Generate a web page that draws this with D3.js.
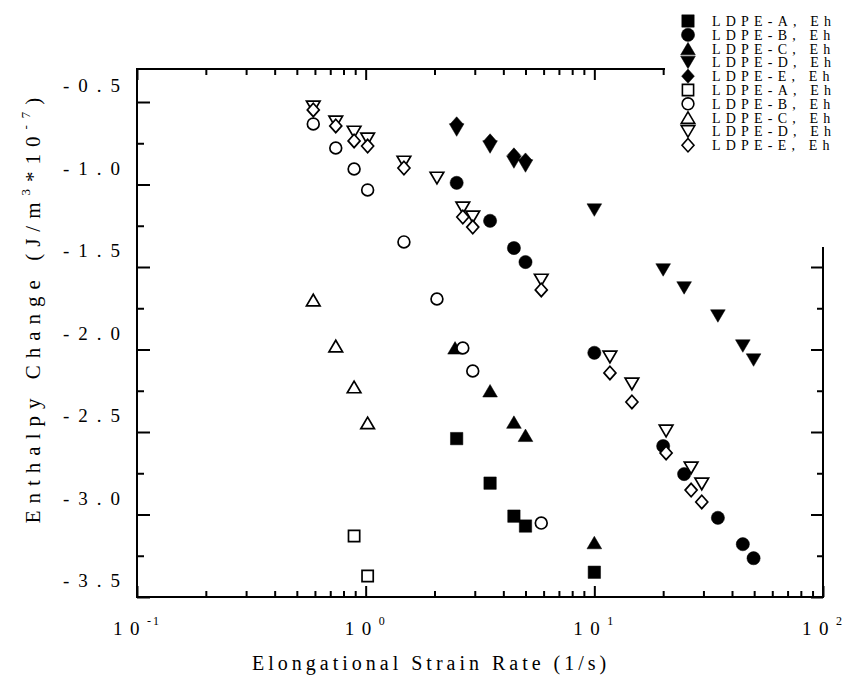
<!DOCTYPE html>
<html><head><meta charset="utf-8">
<script src="https://cdn.jsdelivr.net/npm/d3@7"></script>
<style>body{margin:0;background:#fff} svg{display:block}</style>
</head><body>
<svg id="c" width="844" height="681"></svg>
<script>
// ---------- data ----------
const xTickValues = [0.1, 1, 10, 100];
const xTickExponents = ["-1", "0", "1", "2"];
const yTickValues = [-0.5, -1.0, -1.5, -2.0, -2.5, -3.0, -3.5];
const yTickLabels = ["-0.5", "-1.0", "-1.5", "-2.0", "-2.5", "-3.0", "-3.5"];
const seriesLabels = ["LDPE-A, Eh", "LDPE-B, Eh", "LDPE-C, Eh", "LDPE-D, Eh", "LDPE-E, Eh",
                      "LDPE-A, Eh", "LDPE-B, Eh", "LDPE-C, Eh", "LDPE-D, Eh", "LDPE-E, Eh"];
const seriesShapes = ["square", "circle", "up", "down", "diamond", "square", "circle", "up", "down", "diamond"];
const seriesFilled = [true, true, true, true, true, false, false, false, false, false];

// filled series
const rateA1 = [2.5, 3.5, 4.45, 5.0, 10];
const dhA1   = [-2.54, -2.81, -3.01, -3.07, -3.35];
const rateB1 = [2.5, 3.5, 4.45, 5.0, 10, 20, 24.7, 34.7, 44.6, 49.7];
const dhB1   = [-0.99, -1.22, -1.385, -1.47, -2.02, -2.585, -2.755, -3.02, -3.18, -3.265];
const rateC1 = [2.46, 3.5, 4.45, 5.0, 10];
const dhC1   = [-1.99, -2.25, -2.44, -2.52, -3.17];
const rateD1 = [2.5, 3.5, 4.45, 5.0, 10, 20, 24.7, 34.7, 44.6, 49.7];
const dhD1   = [-0.67, -0.773, -0.864, -0.888, -1.155, -1.518, -1.627, -1.797, -1.979, -2.064];
const rateE1 = [2.5, 3.5, 4.45, 5.0];
const dhE1   = [-0.633, -0.736, -0.821, -0.852];
// open series
const rateA2 = [0.89, 1.02];
const dhA2   = [-3.13, -3.373];
const rateB2 = [0.59, 0.74, 0.89, 1.02, 1.47, 2.05, 2.66, 2.94, 5.86];
const dhB2   = [-0.633, -0.779, -0.906, -1.033, -1.348, -1.694, -1.991, -2.13, -3.052];
const rateC2 = [0.59, 0.74, 0.89, 1.02];
const dhC2   = [-1.70, -1.979, -2.227, -2.445];
const rateD2 = [0.59, 0.74, 0.89, 1.02, 1.47, 2.05, 2.66, 2.94, 5.86, 11.7, 14.6, 20.6, 26.5, 29.5];
const dhD2   = [-0.53, -0.621, -0.682, -0.724, -0.864, -0.961, -1.142, -1.197, -1.579, -2.045, -2.209, -2.494, -2.718, -2.815];
const rateE2 = [0.59, 0.74, 0.89, 1.02, 1.47, 2.66, 2.94, 5.86, 11.7, 14.6, 20.6, 26.5, 29.5];
const dhE2   = [-0.548, -0.645, -0.736, -0.767, -0.90, -1.197, -1.258, -1.639, -2.142, -2.318, -2.627, -2.852, -2.924];

const seriesX = [rateA1, rateB1, rateC1, rateD1, rateE1, rateA2, rateB2, rateC2, rateD2, rateE2];
const seriesY = [dhA1, dhB1, dhC1, dhD1, dhE1, dhA2, dhB2, dhC2, dhD2, dhE2];

// ---------- chart ----------
const svg = d3.select("#c");
const FONT = "'Liberation Serif', 'Times New Roman', serif";
const L = 137, R = 823, T = 69, B = 597;
const x = d3.scaleLog().domain([0.1, 100]).range([L, R]);
const y = d3.scaleLinear().domain([-3.5, -0.3]).range([B, T]);

// symbol types
const shapeTypes = {
  square: { draw(c, s) { c.rect(-s, -s, 2 * s, 2 * s); } },
  circle: { draw(c, s) { c.moveTo(s, 0); c.arc(0, 0, s, 0, 2 * Math.PI); } },
  up: { draw(c, s) { const a = s * 1.08, h = s * 0.92; c.moveTo(0, -h); c.lineTo(a, h); c.lineTo(-a, h); c.closePath(); } },
  down: { draw(c, s) { const a = s * 1.08, h = s * 0.92; c.moveTo(0, h); c.lineTo(a, -h); c.lineTo(-a, -h); c.closePath(); } },
  diamond: { draw(c, s) { const h = s * 1.12; c.moveTo(0, -h); c.lineTo(s, 0); c.lineTo(0, h); c.lineTo(-s, 0); c.closePath(); } }
};
const filledSize = { square: 6.2, circle: 6.6, up: 6.8, down: 6.8, diamond: 6.4 };
const openSize = { square: 5.6, circle: 5.9, up: 6.3, down: 6.3, diamond: 6.0 };
function symPath(shape, filled) {
  return d3.symbol().type(shapeTypes[shape]).size(filled ? filledSize[shape] : openSize[shape])();
}

// ticks
const minorTicks = [];
for (let e = -1; e < 2; e++) for (let m = 1; m < 10; m++) minorTicks.push(m * Math.pow(10, e));
minorTicks.push(100);
const isMajorX = v => xTickValues.some(t => Math.abs(t - v) < 1e-9);
const yAll = d3.range(0, 13).map(i => -0.5 - 0.25 * i);
const isMajorY = v => Math.abs(v * 2 - Math.round(v * 2)) < 1e-9;

function styleAxis(g) {
  g.select(".domain").attr("stroke", "#000").attr("stroke-width", 2);
  g.selectAll(".tick line").attr("stroke", "#000").attr("stroke-width", 2);
  g.selectAll(".tick text").remove();
}
const axB = svg.append("g").attr("transform", `translate(0,${B})`)
  .call(d3.axisBottom(x).tickValues(minorTicks).tickSizeOuter(0).tickSizeInner(-10).tickFormat(""));
styleAxis(axB);
axB.selectAll(".tick line").attr("y2", d => isMajorX(d) ? -11 : -6);
const axT = svg.append("g").attr("transform", `translate(0,${T})`)
  .call(d3.axisTop(x).tickValues(minorTicks).tickSizeOuter(0).tickSizeInner(-10).tickFormat(""));
styleAxis(axT);
axT.selectAll(".tick line").attr("y2", d => isMajorX(d) ? 11 : 6);
const axL = svg.append("g").attr("transform", `translate(${L},0)`)
  .call(d3.axisLeft(y).tickValues(yAll).tickSizeOuter(0).tickSizeInner(-10).tickFormat(""));
styleAxis(axL);
axL.selectAll(".tick line").attr("x2", d => isMajorY(d) ? 13 : 7);
const axR = svg.append("g").attr("transform", `translate(${R},0)`)
  .call(d3.axisRight(y).tickValues(yAll).tickSizeOuter(0).tickSizeInner(-10).tickFormat(""));
styleAxis(axR);
axR.selectAll(".tick line").attr("x2", d => isMajorY(d) ? -12 : -6);
axL.select(".domain").attr("d", `M0,${T - 1}V${B + 1}`);
axR.select(".domain").attr("d", `M0,${T - 1}V${B + 1}`);
axB.select(".domain").attr("d", `M${L - 1},0H${R + 1}`);
axT.select(".domain").attr("d", `M${L - 1},0H${R + 1}`);

// x tick labels
xTickValues.forEach((v, i) => {
  const t = svg.append("text").attr("x", x(v)).attr("y", 635)
    .attr("text-anchor", "middle").attr("font-family", FONT).attr("font-size", 19);
  t.append("tspan").attr("letter-spacing", "7.5px").text("10");
  t.append("tspan").attr("font-size", 12).attr("dy", -10).attr("letter-spacing", "2px").text(xTickExponents[i]);
});
// y tick labels
yTickValues.forEach((v, i) => {
  svg.append("text").attr("x", 129).attr("y", y(v) - 10)
    .attr("text-anchor", "end").attr("font-family", FONT).attr("font-size", 19)
    .attr("letter-spacing", "9px").text(yTickLabels[i]);
});

// axis titles
svg.append("text").attr("x", 252).attr("y", 670)
  .attr("font-family", FONT).attr("font-size", 20).attr("letter-spacing", "4px")
  .text("Elongational Strain Rate (1/s)");
const yt = svg.append("text").attr("transform", "translate(40,307) rotate(-90)")
  .attr("text-anchor", "middle").attr("font-family", FONT).attr("font-size", 21).attr("letter-spacing", "7px");
yt.append("tspan").text("Enthalpy Change (J/m");
yt.append("tspan").attr("font-size", 13).attr("dy", -10).text("3");
yt.append("tspan").attr("dy", 10).text("*10");
yt.append("tspan").attr("font-size", 13).attr("dy", -10).text("-7");
yt.append("tspan").attr("dy", 10).text(")");

// data marks: filled first, then open
const plot = svg.append("g");
seriesX.forEach((xs, si) => {
  const shape = seriesShapes[si], filled = seriesFilled[si];
  plot.append("g").selectAll("path").data(xs.map((v, j) => [v, seriesY[si][j]])).join("path")
    .attr("transform", d => `translate(${x(d[0])},${y(d[1])})`)
    .attr("d", symPath(shape, filled))
    .attr("fill", filled ? "#000" : "#fff")
    .attr("stroke", "#000")
    .attr("stroke-width", filled ? 0.5 : 1.7);
});

// legend (white box covering top-right corner of frame)
svg.append("rect").attr("x", 665).attr("y", 0).attr("width", 179).attr("height", 247).attr("fill", "#fff");
const lg = svg.append("g");
seriesLabels.forEach((lab, i) => {
  const ly = 21 + i * 13.8;
  lg.append("path").attr("transform", `translate(688,${ly})`)
    .attr("d", symPath(seriesShapes[i], seriesFilled[i]))
    .attr("fill", seriesFilled[i] ? "#000" : "#fff").attr("stroke", "#000")
    .attr("stroke-width", seriesFilled[i] ? 0.5 : 1.6);
  lg.append("text").attr("x", 712).attr("y", ly + 5)
    .attr("font-family", FONT).attr("font-size", 14).attr("letter-spacing", "5.2px").text(lab);
});
</script>
</body></html>
